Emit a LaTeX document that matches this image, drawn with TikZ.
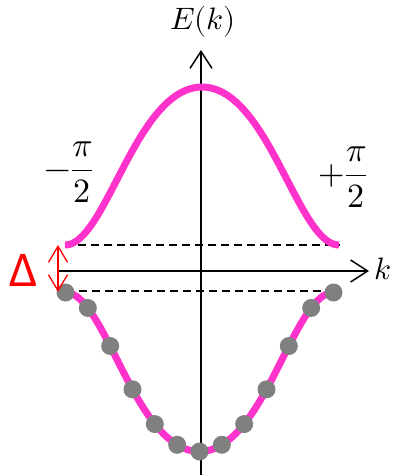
\documentclass[tikz,border=0pt]{standalone}
\usepackage{fontspec}
\usepackage{unicode-math}
\setmathfont{Latin Modern Math}
\newfontfamily\carlito{Carlito}
\usetikzlibrary{arrows.meta}
\definecolor{bandmag}{HTML}{FF33CC}
\definecolor{dotgray}{HTML}{808080}
\begin{document}
\begin{tikzpicture}[x=1pt,y=-1pt,
  axisline/.style={line width=1.5pt,black,-{Straight Barb[length=17pt,width=22pt,line width=1.5pt]}},
  bandline/.style={line width=7pt,bandmag},
  gapline/.style={line width=1.5pt,black,dash pattern=on 8pt off 5pt},
  gaparrow/.style={line width=1.3pt,red,{Straight Barb[length=16pt,width=19pt,line width=1.3pt]}-{Straight Barb[length=16pt,width=19pt,line width=1.3pt]}},
  stdot/.style={circle,fill=dotgray,inner sep=0pt,minimum size=18pt},
  lbl/.style={inner sep=0pt,font=\fontsize{31}{36}\selectfont},
  fraclbl/.style={inner sep=0pt,font=\fontsize{34}{40}\selectfont},
  declare function={hw(\d)=\d+0.07*sin(180*\d); shp(\t)=(1-cos(180*hw(1-abs(\t))))/2;}]
\useasboundingbox (0,0) rectangle (395,475);
% axes
\coordinate (vbot) at (201,475);
\coordinate (vtop) at (201,50);
\coordinate (hl) at (58,271);
\coordinate (hr) at (369,271);
\draw[axisline] (vbot) -- (vtop);
\draw[axisline] (hl) -- (hr);
\node[lbl] (Ek) at (203,22) {$E(k)$};
\node[lbl,anchor=west] (klab) at (374,269) {$k$};
% dashed gap lines
\coordinate (ua) at (65,245);
\coordinate (ub) at (340,245);
\coordinate (la) at (66,291);
\coordinate (lb) at (333,291);
\draw[gapline] (ua) -- (ub);
\draw[gapline] (la) -- (lb);
% upper band
\draw[bandline] plot[domain=-1:1,samples=121,variable=\t] ({202+137*\t},{245-158*shp(\t)});
% lower band
\draw[bandline] plot[domain=-1:1,samples=121,variable=\t] ({199.5+134*\t},{292.5+159*shp(\t)});
\foreach \k in {0,...,12}{
  \pgfmathsetmacro{\tt}{-1+\k/6}
  \node[stdot] (d\k) at ({199.5+134*\tt},{292.5+159*shp(\tt)}) {};
}
% gap arrow
\coordinate (gt) at (58,245);
\coordinate (gb) at (58,292);
\draw[gaparrow] (gt) -- (gb);
\node[inner sep=0pt,text=red,font=\carlito\fontsize{50}{58}\selectfont] (delta) at (24,270) {Δ};
% tick labels
\node[fraclbl] (mleft) at (69,172) {$\displaystyle-\frac{\pi}{2}$};
\node[fraclbl] (pright) at (343,177) {$\displaystyle+\frac{\pi}{2}$};
\end{tikzpicture}
\end{document}
